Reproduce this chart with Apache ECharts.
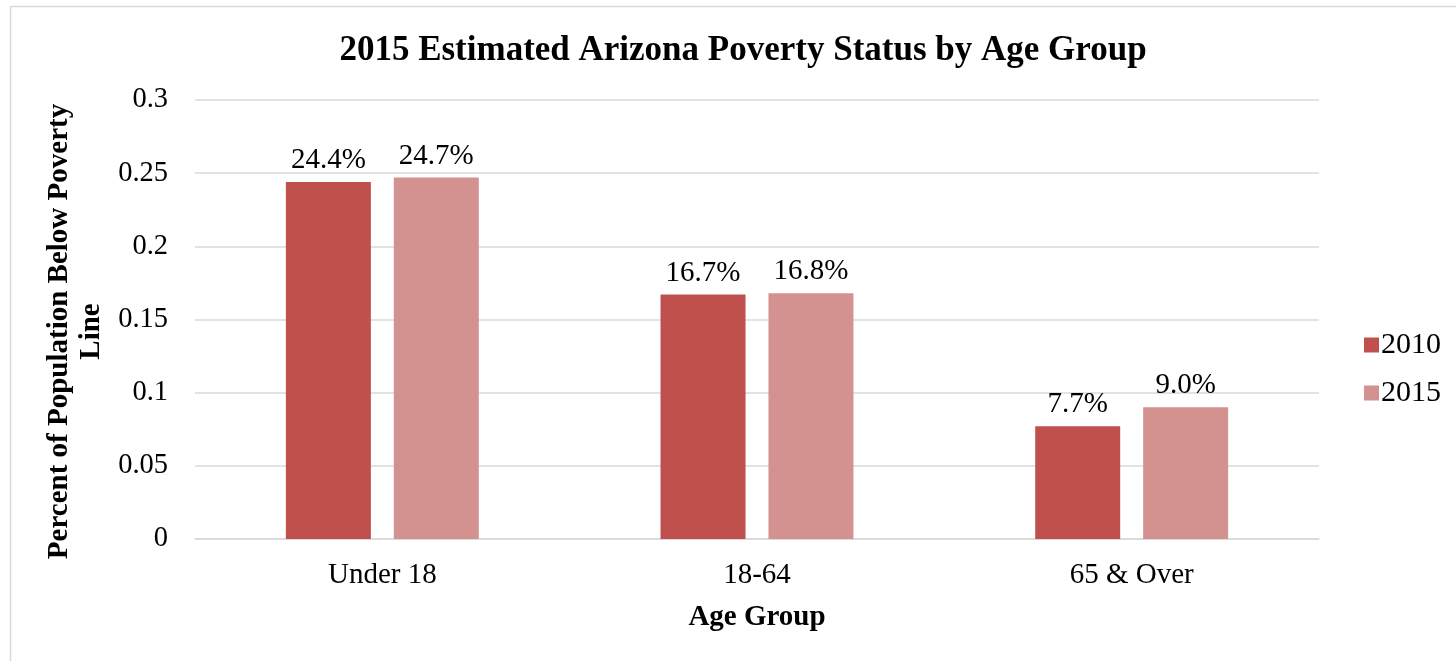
<!DOCTYPE html>
<html><head><meta charset="utf-8">
<script src="https://cdn.jsdelivr.net/npm/echarts@6/dist/echarts.min.js"></script>
<style>html,body{margin:0;padding:0;background:#fff;}#c{width:1456px;height:661px;}</style>
</head><body><div id="c"></div>
<script>
const categories = ['Under 18', '18-64', '65 & Over'];
const seriesNames = ['2010', '2015'];
const values2010 = [0.244, 0.167, 0.077];
const values2015 = [0.247, 0.168, 0.090];
const yTicks = [0, 0.05, 0.1, 0.15, 0.2, 0.25, 0.3];
const colors = ['#C0504D', '#D39190'];
const FONT = '"Liberation Serif", "Times New Roman", serif';

const chart = echarts.init(document.getElementById('c'));
const mkSeries = (name, data, color) => ({
  name, type: 'bar', data, barWidth: 85, barGap: '27%',
  itemStyle: {color},
  label: {show: true, position: 'top', distance: 7, color: '#000',
    fontFamily: FONT, fontSize: 29,
    formatter: p => (p.value * 100).toFixed(1) + '%'}
});
chart.setOption({
  animation: false,
  textStyle: {fontFamily: FONT},
  graphic: [{type: 'rect', shape: {x: 10.5, y: 6.5, width: 1460, height: 700},
    style: {fill: 'none', stroke: '#D9D9D9', lineWidth: 1.5}, silent: true, z: -1}],
  title: {text: '2015 Estimated Arizona Poverty Status by Age Group', left: 738, textAlign: 'center', top: 28,
    textStyle: {fontFamily: FONT, fontWeight: 'bold', fontSize: 35, color: '#000'}},
  legend: {orient: 'vertical', left: 1359, top: 325, itemWidth: 15, itemHeight: 15, itemGap: 18,
    icon: 'rect', textStyle: {fontFamily: FONT, fontSize: 30, color: '#000', padding: [0,0,0,-3]},
    data: seriesNames},
  grid: {left: 195, right: 137, top: 100, bottom: 122, containLabel: false},
  xAxis: {type: 'category', data: categories,
    axisLine: {lineStyle: {color: '#D9D9D9', width: 1.5}}, axisTick: {show: false},
    axisLabel: {color: '#000', fontFamily: FONT, fontSize: 29, margin: 22},
    name: 'Age Group', nameLocation: 'middle', nameGap: 64,
    nameTextStyle: {color: '#000', fontFamily: FONT, fontWeight: 'bold', fontSize: 29}},
  yAxis: {type: 'value', min: yTicks[0], max: yTicks[yTicks.length-1], interval: 0.05,
    axisLine: {show: false}, axisTick: {show: false},
    splitLine: {lineStyle: {color: '#D9D9D9', width: 1.5}},
    axisLabel: {color: '#000', fontFamily: FONT, fontSize: 28.5, margin: 27,
      formatter: v => String(+v.toFixed(2))},
    name: 'Percent of Population Below Poverty\nLine', nameLocation: 'middle', nameGap: 80,
    nameTextStyle: {color: '#000', fontFamily: FONT, fontWeight: 'bold', fontSize: 29, lineHeight: 32,
      padding: [0, 24, 0, 0]}},
  series: [mkSeries(seriesNames[0], values2010, colors[0]), mkSeries(seriesNames[1], values2015, colors[1])]
});
</script></body></html>
